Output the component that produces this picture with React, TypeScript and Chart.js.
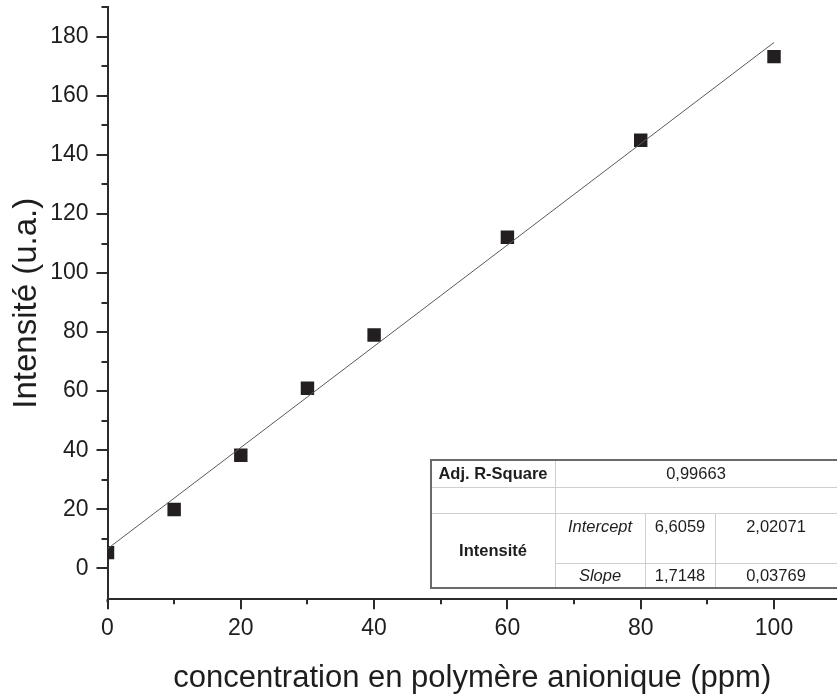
import React, { useEffect, useRef } from "react";
import { Chart, registerables } from "chart.js";

Chart.register(...registerables);

// ---- data ----
const concentrations = [0, 10, 20, 30, 40, 60, 80, 100];
const intensities = [5.3, 19.9, 38.3, 61.0, 79.0, 112.1, 145.0, 173.3];
const fitIntercept = 6.6059;
const fitSlope = 1.7148;
const fitRange = [0, 100];
const xTickValues = [0, 20, 40, 60, 80, 100];
const xMinorTicks = [10, 30, 50, 70, 90];
const yTickValues = [0, 20, 40, 60, 80, 100, 120, 140, 160, 180];
const yMinorTicks = [10, 30, 50, 70, 90, 110, 130, 150, 170, 190];
const xTitle = "concentration en polymère anionique (ppm)";
const yTitle = "Intensité (u.a.)";
const statLabels = ["Adj. R-Square", "Intensité", "Intercept", "Slope"];
const statAdjR2 = "0,99663";
const statValues = ["6,6059", "1,7148"];
const statErrors = ["2,02071", "0,03769"];

const FONT = "'Liberation Sans', Arial, Helvetica, sans-serif";
const AXIS_COLOR = "#2b2b2b";

const minorTickPlugin = {
  id: "minorTicks",
  afterDraw(chart: any) {
    const ctx = chart.ctx;
    const xs = chart.scales.x;
    const ys = chart.scales.y;
    const area = chart.chartArea;
    ctx.save();
    ctx.strokeStyle = AXIS_COLOR;
    ctx.lineWidth = 2;
    ctx.beginPath();
    yTickValues.forEach((v) => {
      const py = Math.round(ys.getPixelForValue(v));
      ctx.moveTo(area.left - 11, py);
      ctx.lineTo(area.left, py);
    });
    yMinorTicks.forEach((v) => {
      const py = Math.round(ys.getPixelForValue(v));
      ctx.moveTo(area.left - 6, py);
      ctx.lineTo(area.left, py);
    });
    xTickValues.forEach((v) => {
      const px = Math.round(xs.getPixelForValue(v));
      ctx.moveTo(px, area.bottom);
      ctx.lineTo(px, area.bottom + 10);
    });
    xMinorTicks.forEach((v) => {
      const px = Math.round(xs.getPixelForValue(v));
      ctx.moveTo(px, area.bottom);
      ctx.lineTo(px, area.bottom + 5);
    });
    ctx.moveTo(area.left, area.bottom);
    ctx.lineTo(area.left, area.bottom + 3);
    ctx.stroke();
    ctx.restore();
  },
};

const tablePlugin = {
  id: "statTable",
  afterDraw(chart: any) {
    const ctx = chart.ctx;
    const L = 431, R = 837;
    const rows = [460, 487, 513, 563, 588];
    const cols = [431, 555, 645, 715, 837];
    ctx.save();
    ctx.fillStyle = "#ffffff";
    ctx.fillRect(L, rows[0], R - L, rows[4] - rows[0]);
    ctx.strokeStyle = "#cfcfcf";
    ctx.lineWidth = 1;
    ctx.beginPath();
    ctx.moveTo(L, rows[1] + 0.5); ctx.lineTo(R, rows[1] + 0.5);
    ctx.moveTo(L, rows[2] + 0.5); ctx.lineTo(R, rows[2] + 0.5);
    ctx.moveTo(cols[1], rows[3] + 0.5); ctx.lineTo(R, rows[3] + 0.5);
    ctx.moveTo(cols[1] + 0.5, rows[0]); ctx.lineTo(cols[1] + 0.5, rows[4]);
    ctx.moveTo(cols[2] + 0.5, rows[2]); ctx.lineTo(cols[2] + 0.5, rows[4]);
    ctx.moveTo(cols[3] + 0.5, rows[2]); ctx.lineTo(cols[3] + 0.5, rows[4]);
    ctx.stroke();
    ctx.strokeStyle = "#6a6a6a";
    ctx.lineWidth = 2;
    ctx.beginPath();
    ctx.moveTo(R, rows[0]); ctx.lineTo(L, rows[0]); ctx.lineTo(L, rows[4]); ctx.lineTo(R, rows[4]);
    ctx.stroke();
    ctx.fillStyle = "#1e1e1e";
    ctx.textAlign = "center";
    ctx.textBaseline = "middle";
    const c1 = (cols[0] + cols[1]) / 2;
    const c2 = (cols[1] + cols[2]) / 2;
    const c3 = (cols[2] + cols[3]) / 2;
    const c4 = (cols[3] + cols[4]) / 2;
    const r1 = (rows[0] + rows[1]) / 2 + 1;
    const r3 = rows[2] + 14;
    const r4 = (rows[3] + rows[4]) / 2 + 1;
    ctx.font = "bold 16.5px " + FONT;
    ctx.fillText(statLabels[0], c1, r1);
    ctx.fillText(statLabels[1], c1, (rows[2] + rows[4]) / 2 + 1);
    ctx.font = "16.5px " + FONT;
    ctx.fillText(statAdjR2, (cols[1] + cols[4]) / 2, r1);
    ctx.fillText(statValues[0], c3, r3);
    ctx.fillText(statErrors[0], c4, r3);
    ctx.fillText(statValues[1], c3, r4);
    ctx.fillText(statErrors[1], c4, r4);
    ctx.font = "italic 16.5px " + FONT;
    ctx.fillText(statLabels[2], c2, r3);
    ctx.fillText(statLabels[3], c2, r4);
    ctx.restore();
  },
};

export default function App() {
  const ref = useRef<HTMLCanvasElement | null>(null);
  useEffect(() => {
    document.body.style.margin = "0";
    const canvas = ref.current;
    if (!canvas) return;
    const points = concentrations.map((x, i) => ({ x, y: intensities[i] }));
    const fit = fitRange.map((x) => ({ x, y: fitIntercept + fitSlope * x }));
    const chart = new Chart(canvas, {
      type: "scatter",
      data: {
        datasets: [
          {
            label: "fit",
            data: fit,
            showLine: true,
            borderColor: "#5a5a5a",
            borderWidth: 1,
            pointRadius: 0,
            clip: 0,
          } as any,
          {
            label: "Intensité",
            data: points,
            pointStyle: "rect",
            pointRadius: 9.5,
            backgroundColor: "#231f20",
            borderWidth: 0,
            clip: 0,
          } as any,
        ],
      },
      options: {
        responsive: false,
        animation: false,
        layout: { autoPadding: false, padding: { top: 7.3, right: 0, left: 0, bottom: 0 } },
        plugins: { legend: { display: false }, tooltip: { enabled: false } },
        scales: {
          x: {
            type: "linear",
            min: 0,
            max: 109.45,
            grid: { display: false, drawTicks: false },
            border: { display: true, color: AXIS_COLOR, width: 2 },
            ticks: {
              stepSize: 20,
              includeBounds: false,
              padding: 16,
              color: "#1e1e1e",
              font: { family: FONT, size: 23 },
            },
            title: {
              display: true,
              text: xTitle,
              color: "#1e1e1e",
              font: { family: FONT, size: 31 },
              padding: { top: 0, bottom: 3 },
            },
            afterFit(scale: any) {
              scale.height = 100.7;
              scale.paddingLeft = 0;
              scale.paddingRight = 0;
            },
          },
          y: {
            type: "linear",
            min: -10.5,
            max: 190,
            grid: { display: false, drawTicks: false },
            border: { display: true, color: AXIS_COLOR, width: 2 },
            ticks: {
              stepSize: 20,
              includeBounds: false,
              padding: 19,
              color: "#1e1e1e",
              font: { family: FONT, size: 23 },
            },
            title: {
              display: true,
              text: yTitle,
              color: "#1e1e1e",
              font: { family: FONT, size: 33 },
              padding: { top: 7, bottom: 0 },
            },
            afterFit(scale: any) {
              scale.width = 107.5;
              scale.paddingTop = 0;
              scale.paddingBottom = 0;
            },
          },
        },
      },
      plugins: [minorTickPlugin, tablePlugin],
    });
    return () => chart.destroy();
  }, []);
  return <canvas ref={ref} width={837} height={700} style={{ display: "block" }} />;
}
